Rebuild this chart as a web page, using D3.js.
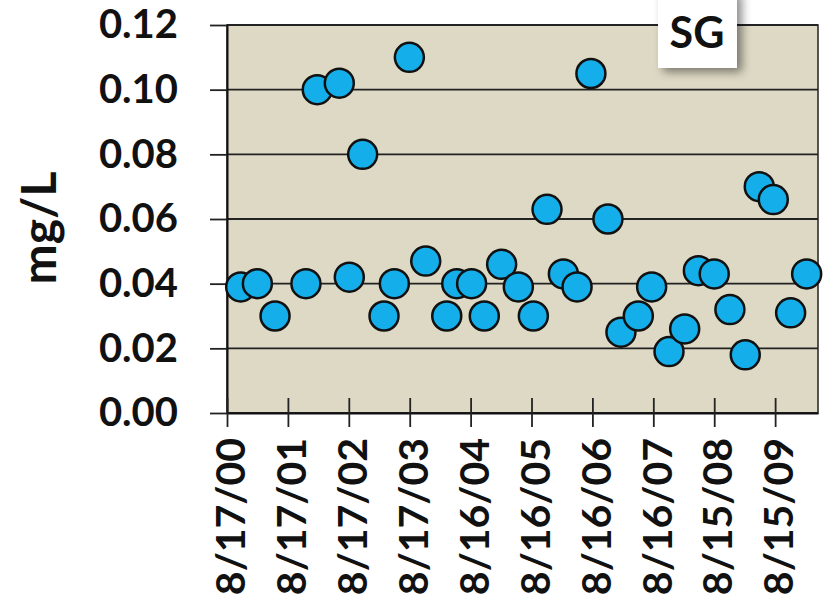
<!DOCTYPE html>
<html>
<head>
<meta charset="utf-8">
<script src="https://cdn.jsdelivr.net/npm/d3@7"></script>
<style>
  body { margin: 0; background: #fff; }
  svg { display: block; font-family: Lato, "Open Sans", sans-serif; font-weight: 700; }
</style>
</head>
<body>
<div id="chart"></div>
<script>
// sample dates and SG concentration, mg/L
const sampleDates = [
  "2000-11-07", "2001-02-15", "2001-06-01", "2001-12-03", "2002-02-09", "2002-06-21",
  "2002-08-20", "2002-11-08", "2003-03-16", "2003-05-17", "2003-08-15", "2003-11-21",
  "2004-03-26", "2004-05-25", "2004-08-22", "2004-11-06", "2005-02-18", "2005-05-29",
  "2005-08-27", "2005-11-17", "2006-02-23", "2006-05-16", "2006-08-07", "2006-11-17",
  "2007-02-03", "2007-05-18", "2007-08-06", "2007-11-18", "2008-02-20", "2008-05-12",
  "2008-08-15", "2008-11-17", "2009-02-17", "2009-05-12", "2009-08-04", "2009-11-16",
  "2010-02-20"
];
const sgValues = [
  0.039, 0.040, 0.030, 0.040, 0.100, 0.102,
  0.042, 0.080, 0.030, 0.040, 0.110, 0.047,
  0.030, 0.040, 0.040, 0.030, 0.046, 0.039,
  0.030, 0.063, 0.043, 0.039, 0.105, 0.060,
  0.025, 0.030, 0.039, 0.019, 0.026, 0.044,
  0.043, 0.032, 0.018, 0.070, 0.066, 0.031,
  0.043
];
const xTickDates = [
  "2000-08-17", "2001-08-17", "2002-08-17", "2003-08-17", "2004-08-16",
  "2005-08-16", "2006-08-16", "2007-08-16", "2008-08-15", "2009-08-15"
];
const xTickLabels = [
  "8/17/00", "8/17/01", "8/17/02", "8/17/03", "8/16/04",
  "8/16/05", "8/16/06", "8/16/07", "8/15/08", "8/15/09"
];
const xDomain = ["2000-08-17", "2010-04-29"];
const yTicks = [0, 0.02, 0.04, 0.06, 0.08, 0.10, 0.12];
const yTitle = "mg/L";
const siteLabel = "SG";

const W = 831, H = 597;
const plotLeft = 227, plotRight = 818, plotTop = 25, plotBottom = 413;
const parse = d3.timeParse("%Y-%m-%d");

const svg = d3.select("#chart").append("svg")
  .attr("width", W)
  .attr("height", H);

const x = d3.scaleTime()
  .domain(xDomain.map(parse))
  .range([plotLeft, plotRight]);

const y = d3.scaleLinear()
  .domain([0, 0.12])
  .range([plotBottom, plotTop]);

// plot area
svg.append("rect")
  .attr("x", plotLeft).attr("y", plotTop)
  .attr("width", plotRight - plotLeft).attr("height", plotBottom - plotTop)
  .attr("fill", "#ddd9c4")
  .attr("stroke", "#222")
  .attr("stroke-width", 1.5);

// gridlines
svg.append("g")
  .selectAll("line")
  .data(yTicks)
  .enter()
  .append("line")
  .attr("x1", plotLeft).attr("x2", plotRight)
  .attr("y1", d => y(d)).attr("y2", d => y(d))
  .attr("stroke", "#222")
  .attr("stroke-width", 1.8);

// y axis
const yAxis = d3.axisLeft(y)
  .tickValues(yTicks)
  .tickSizeInner(17)
  .tickSizeOuter(0)
  .tickPadding(32)
  .tickFormat(d3.format(".2f"));

const gy = svg.append("g")
  .attr("transform", "translate(" + plotLeft + ",0)")
  .call(yAxis);
gy.selectAll("line").attr("stroke", "#222").attr("stroke-width", 1.8);
gy.select(".domain").attr("stroke", "#111").attr("stroke-width", 2);
gy.selectAll("text")
  .attr("font-size", 40)
  .attr("font-family", "Lato, 'Open Sans', sans-serif")
  .attr("font-weight", 700)
  .attr("fill", "#111");

// x axis
const xAxis = d3.axisBottom(x)
  .tickValues(xTickDates.map(parse))
  .tickSizeInner(14)
  .tickSizeOuter(0)
  .tickFormat((d, i) => xTickLabels[i]);

const gx = svg.append("g")
  .attr("transform", "translate(0," + plotBottom + ")")
  .call(xAxis);
gx.select(".domain").attr("stroke", "#111").attr("stroke-width", 2);
gx.selectAll("line")
  .attr("y1", -15)
  .attr("stroke", "#222").attr("stroke-width", 1.8);
gx.selectAll("text")
  .attr("transform", "rotate(-90)")
  .attr("text-anchor", "end")
  .attr("x", -25)
  .attr("y", 3)
  .attr("dy", "0.36em")
  .attr("font-size", 41)
  .attr("font-family", "Lato, 'Open Sans', sans-serif")
  .attr("font-weight", 700)
  .attr("fill", "#111");

// y title
svg.append("text")
  .text(yTitle)
  .attr("transform", "translate(56," + ((plotTop + plotBottom) / 2 + 9) + ") rotate(-90)")
  .attr("text-anchor", "middle")
  .attr("font-size", 48)
  .attr("fill", "#111");

// points
svg.append("g")
  .selectAll("circle")
  .data(sampleDates.map((d, i) => ({ date: parse(d), value: sgValues[i] })))
  .enter()
  .append("circle")
  .attr("cx", d => x(d.date))
  .attr("cy", d => y(d.value))
  .attr("r", 14.5)
  .attr("fill", "#14aeea")
  .attr("stroke", "#111")
  .attr("stroke-width", 2.5);

// site label box with shadow
const defs = svg.append("defs");
const f = defs.append("filter").attr("id", "shadow")
  .attr("x", "-30%").attr("y", "-30%").attr("width", "170%").attr("height", "170%");
f.append("feDropShadow")
  .attr("dx", 5).attr("dy", 4)
  .attr("stdDeviation", 5)
  .attr("flood-color", "#000")
  .attr("flood-opacity", 0.45);

svg.append("rect")
  .attr("x", 658).attr("y", -10)
  .attr("width", 79).attr("height", 78)
  .attr("fill", "#fff")
  .attr("filter", "url(#shadow)");

svg.append("text")
  .text(siteLabel)
  .attr("x", 697).attr("y", 48)
  .attr("text-anchor", "middle")
  .attr("font-size", 43)
  .attr("fill", "#111");
</script>
</body>
</html>
